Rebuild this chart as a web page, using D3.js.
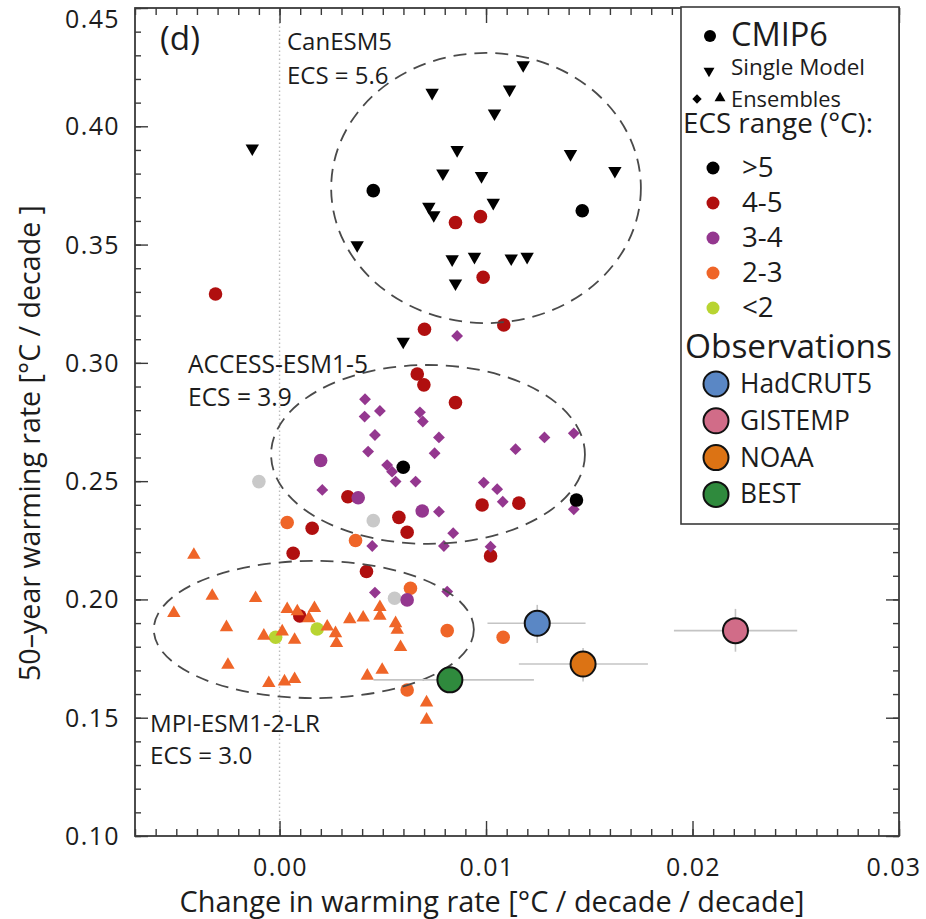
<!DOCTYPE html>
<html><head><meta charset="utf-8">
<script src="https://cdn.jsdelivr.net/npm/d3@7"></script>
<style>body{margin:0;background:#fff} svg{display:block} text{font-family:"Open Sans",sans-serif;fill:#1c1c1c}</style>
</head><body><svg id="c" width="926" height="919"></svg>
<script>
// ---------------- data ----------------
const xTicks = [0.00, 0.01, 0.02, 0.03];
const yTicks = [0.10, 0.15, 0.20, 0.25, 0.30, 0.35, 0.40, 0.45];

// CMIP6 individual models, grouped by ECS range  [x, y]
const cmipGrey   = [[-0.00100,0.2498],[0.00454,0.2333],[0.00557,0.2005]];
const cmipLime   = [[-0.00019,0.1840],[0.00182,0.1875]];
const cmipOrange = [[0.00037,0.2325],[0.00368,0.2249],[0.00634,0.2047],[0.00812,0.1868],[0.00618,0.1617],[0.01083,0.1840]];
const cmipRed    = [[0.00852,0.3593],[0.00973,0.3618],[0.00986,0.3362],[0.00702,0.3142],[0.01086,0.3160],[-0.00310,0.3291],
                    [0.00667,0.2953],[0.00699,0.2907],[0.00852,0.2832],[0.00331,0.2434],[0.00578,0.2347],[0.00618,0.2284],
                    [0.00981,0.2399],[0.01159,0.2407],[0.00158,0.2301],[0.00066,0.2195],[0.01022,0.2184],[0.00421,0.2118],[0.00098,0.1930]];
const cmipPurple = [[0.00199,0.2587],[0.00381,0.2430],[0.00691,0.2374],[0.00618,0.1998]];
const cmipBlack  = [[0.00454,0.3728],[0.01466,0.3643],[0.00599,0.2559],[0.01438,0.2420]];

// Single-model ensembles
const canesm5Runs = [[0.01180,0.4259],[0.00739,0.4142],[0.01114,0.4156],[0.01041,0.4055],[0.00860,0.3900],[0.01409,0.3883],
                     [0.01624,0.3812],[0.00791,0.3801],[0.00978,0.3790],[0.01035,0.3677],[0.00723,0.3660],[0.00747,0.3625],
                     [0.00376,0.3498],[0.00836,0.3438],[0.00944,0.3449],[0.01122,0.3442],[0.01199,0.3449],[0.00852,0.3336],
                     [-0.00132,0.3907],[0.00599,0.3090]];
const accessRuns = [[0.00860,0.3114],[0.00414,0.2846],[0.00412,0.2773],[0.00486,0.2797],[0.00680,0.2791],[0.00694,0.2752],
                    [0.00462,0.2695],[0.00772,0.2685],[0.00429,0.2625],[0.00751,0.2618],[0.01143,0.2635],[0.01283,0.2685],
                    [0.01425,0.2702],[0.00521,0.2568],[0.00545,0.2540],[0.00562,0.2498],[0.00659,0.2498],[0.00207,0.2463],
                    [0.00989,0.2494],[0.01054,0.2466],[0.01081,0.2413],[0.00772,0.2371],[0.01425,0.2381],[0.00841,0.2280],
                    [0.00449,0.2226],[0.00796,0.2226],[0.01022,0.2223],[0.00462,0.2029],[0.00812,0.2033]];
const mpiRuns = [[-0.00415,0.2188],[-0.00326,0.2015],[-0.00116,0.2005],[-0.00512,0.1942],[-0.00257,0.1882],[-0.00076,0.1846],
                 [0.00013,0.1864],[0.00073,0.1829],[0.00037,0.1959],[0.00086,0.1949],[0.00169,0.1963],[0.00142,0.1920],
                 [0.00231,0.1885],[0.00271,0.1857],[0.00276,0.1815],[0.00340,0.1916],[0.00405,0.1923],[0.00486,0.1967],
                 [0.00486,0.1930],[0.00562,0.1899],[0.00570,0.1871],[0.00586,0.1798],[-0.00250,0.1723],[-0.00052,0.1646],
                 [0.00024,0.1653],[0.00073,0.1663],[0.00425,0.1677],[0.00497,0.1702],[0.00712,0.1564],[0.00712,0.1491]];

// Observations
const obsNames = ["HadCRUT5", "GISTEMP", "NOAA", "BEST"];
const obsX     = [0.01248, 0.02208, 0.01470, 0.00825];
const obsY     = [0.1899, 0.1868, 0.1727, 0.1660];
const obsXLo   = [0.01007, 0.01910, 0.01159, 0.00455];
const obsXHi   = [0.01482, 0.02507, 0.01784, 0.01232];
const obsYLo   = [0.1816, 0.1779, 0.1653, 0.1612];
const obsYHi   = [0.1977, 0.1960, 0.1795, 0.1708];
const obsColors = ["#5a87c5", "#d16c88", "#dc7314", "#2f8a3d"];

// Ensemble spread ellipses (centre x, centre y, half-width, half-height)
const ellipseNames = ["CanESM5", "ACCESS-ESM1-5", "MPI-ESM1-2-LR"];
const ellipseCX = [0.01000, 0.00719, 0.00166];
const ellipseCY = [0.3739, 0.2613, 0.1873];
const ellipseRX = [0.00750, 0.00760, 0.00775];
const ellipseRY = [0.0571, 0.0378, 0.0290];
const ellipseECS = ["ECS = 5.6", "ECS = 3.9", "ECS = 3.0"];

const ecsLabels = [">5", "4-5", "3-4", "2-3", "<2"];
const ecsColors = ["#000000", "#b00f0f", "#94378f", "#ef6528", "#b8d431"];
const greyColor = "#c9c9c9";

// ---------------- drawing ----------------
const svg = d3.select('#c');
const L = 135, R = 899, T = 8, B = 836;
const x = d3.scaleLinear().domain([-0.007, 0.03]).range([L, R]);
const y = d3.scaleLinear().domain([0.10, 0.45]).range([B, T]);
const fmt = d3.format('.2f');
const axisCol = '#3a3a3a';

function fit(t, w) {
  const l = t.node().getComputedTextLength();
  const fs = parseFloat(t.attr('font-size'));
  t.attr('font-size', (fs * w / l).toFixed(2));
  return parseFloat(t.attr('font-size'));
}
function spacingFor(t, w) {
  const l = t.node().getComputedTextLength();
  const n = t.text().length;
  return (w - l) / n;
}

// zero line
svg.append('line').attr('x1', x(0)).attr('x2', x(0)).attr('y1', y(0.10)).attr('y2', y(0.45))
  .attr('stroke', '#bdbdbd').attr('stroke-width', 1.4).attr('stroke-dasharray', '1.5,2.5');

// axes (ticks pointing inward)
const xMinor = d3.range(-7, 31).map(i => i / 1000);
const yMinor = d3.range(10, 46).map(i => i / 100);
function styleAxis(g) { g.select('.domain').remove(); g.selectAll('line').attr('stroke', axisCol).attr('stroke-width', 1.4); }
svg.append('g').attr('transform', `translate(0,${B})`).call(d3.axisBottom(x).tickValues(xMinor).tickSize(-7).tickFormat('')).call(styleAxis);
svg.append('g').attr('transform', `translate(0,${B})`).call(d3.axisBottom(x).tickValues(xTicks).tickSize(-15).tickFormat('')).call(styleAxis);
svg.append('g').attr('transform', `translate(0,${T})`).call(d3.axisTop(x).tickValues(xMinor).tickSize(-7).tickFormat('')).call(styleAxis);
svg.append('g').attr('transform', `translate(0,${T})`).call(d3.axisTop(x).tickValues(xTicks).tickSize(-15).tickFormat('')).call(styleAxis);
svg.append('g').attr('transform', `translate(${L},0)`).call(d3.axisLeft(y).tickValues(yMinor).tickSize(-6).tickFormat('')).call(styleAxis);
svg.append('g').attr('transform', `translate(${L},0)`).call(d3.axisLeft(y).tickValues(yTicks).tickSize(-13).tickFormat('')).call(styleAxis);
svg.append('g').attr('transform', `translate(${R},0)`).call(d3.axisRight(y).tickValues(yMinor).tickSize(-6).tickFormat('')).call(styleAxis);
svg.append('g').attr('transform', `translate(${R},0)`).call(d3.axisRight(y).tickValues(yTicks).tickSize(-13).tickFormat('')).call(styleAxis);
svg.append('rect').attr('x', L).attr('y', T).attr('width', R - L).attr('height', B - T)
  .attr('fill', 'none').attr('stroke', axisCol).attr('stroke-width', 1.8);

// tick labels
const tickFs = 25;
const yl = svg.append('g').selectAll('text').data(yTicks).join('text')
  .attr('x', 120).attr('y', d => Math.max(y(d), 19)).attr('dy', '0.36em').attr('text-anchor', 'end')
  .attr('font-size', tickFs).text(d => fmt(d));
const yls = spacingFor(d3.select(yl.nodes()[7]), 55); yl.attr('letter-spacing', yls.toFixed(2));
const xl = svg.append('g').selectAll('text').data(xTicks).join('text')
  .attr('x', d => Math.min(x(d) + 1, 894)).attr('y', 876).attr('text-anchor', 'middle')
  .attr('font-size', tickFs).text(d => fmt(d));
const xls = spacingFor(d3.select(xl.nodes()[0]), 55); xl.attr('letter-spacing', xls.toFixed(2));

// axis titles
const xt = svg.append('text').attr('x', 492).attr('y', 912).attr('text-anchor', 'middle').attr('font-size', 25)
  .text('Change in warming rate [°C / decade / decade]');
fit(xt, 625);
const yt = svg.append('text').attr('transform', 'translate(40,443) rotate(-90)').attr('text-anchor', 'middle').attr('font-size', 25)
  .text('50–year warming rate [°C / decade ]');
fit(yt, 476);

// markers
const gPts = svg.append('g');
function circles(data, col, r) {
  gPts.append('g').selectAll('circle').data(data).join('circle')
    .attr('cx', d => x(d[0])).attr('cy', d => y(d[1])).attr('r', r).attr('fill', col);
}
const triUp = d3.symbol().type(d3.symbolTriangle).size(78)();
const diamond = d3.symbol().type(d3.symbolSquare).size(70)();
function symbols(data, path, col, rot) {
  gPts.append('g').selectAll('path').data(data).join('path')
    .attr('d', path).attr('fill', col)
    .attr('transform', d => `translate(${x(d[0])},${y(d[1])}) rotate(${rot})`);
}
circles(cmipGrey, greyColor, 6.8);
circles(cmipLime, ecsColors[4], 6.8);
circles(cmipOrange, ecsColors[3], 6.8);
circles(cmipRed, ecsColors[1], 6.8);
circles(cmipPurple, ecsColors[2], 6.8);
symbols(mpiRuns, triUp, ecsColors[3], 0);
symbols(accessRuns, diamond, ecsColors[2], 45);
circles(cmipBlack, ecsColors[0], 6.8);
symbols(canesm5Runs, triUp, '#000', 180);

// ellipses
svg.append('g').selectAll('ellipse').data(ellipseNames).join('ellipse')
  .attr('cx', (d, i) => x(ellipseCX[i])).attr('cy', (d, i) => y(ellipseCY[i]))
  .attr('rx', (d, i) => x(ellipseCX[i] + ellipseRX[i]) - x(ellipseCX[i]))
  .attr('ry', (d, i) => y(ellipseCY[i] - ellipseRY[i]) - y(ellipseCY[i]))
  .attr('fill', 'none').attr('stroke', '#4a4a4a').attr('stroke-width', 1.8).attr('stroke-dasharray', '13,8');

// observations
const gObs = svg.append('g');
obsNames.forEach((n, i) => {
  gObs.append('line').attr('x1', x(obsXLo[i])).attr('x2', x(obsXHi[i])).attr('y1', y(obsY[i])).attr('y2', y(obsY[i]))
    .attr('stroke', '#c4c4c4').attr('stroke-width', 1.6);
  gObs.append('line').attr('x1', x(obsX[i])).attr('x2', x(obsX[i])).attr('y1', y(obsYLo[i])).attr('y2', y(obsYHi[i]))
    .attr('stroke', '#c4c4c4').attr('stroke-width', 1.6);
});
gObs.selectAll('circle').data(obsNames).join('circle')
  .attr('cx', (d, i) => x(obsX[i])).attr('cy', (d, i) => y(obsY[i])).attr('r', 12.5)
  .attr('fill', (d, i) => obsColors[i]).attr('stroke', '#111').attr('stroke-width', 2);

// annotations
const dl = svg.append('text').attr('x', 160).attr('y', 50).attr('font-size', 24).text('(d)');
fit(dl, 40);
const annX = [287, 188, 150], annY = [50, 373, 732], annW = [105, 180, 170], annGap = [34, 33, 32];
ellipseNames.forEach((n, i) => {
  const t = svg.append('text').attr('x', annX[i]).attr('y', annY[i]).attr('font-size', 20).text(n);
  const fs = fit(t, annW[i]);
  svg.append('text').attr('x', annX[i]).attr('y', annY[i] + annGap[i]).attr('font-size', fs).text(ellipseECS[i]);
});

// legend
const lg = svg.append('g');
lg.append('rect').attr('x', 681).attr('y', 7).attr('width', 218).attr('height', 517)
  .attr('fill', '#fff').attr('stroke', '#3a3a3a').attr('stroke-width', 1.6);
lg.append('circle').attr('cx', 710).attr('cy', 36).attr('r', 6).attr('fill', '#000');
fit(lg.append('text').attr('x', 731).attr('y', 46).attr('font-size', 28).text('CMIP6'), 97);
const triS = d3.symbol().type(d3.symbolTriangle).size(52)();
const diaS = d3.symbol().type(d3.symbolSquare).size(44)();
lg.append('path').attr('d', triS).attr('transform', 'translate(709,71) rotate(180)');
fit(lg.append('text').attr('x', 731).attr('y', 75).attr('font-size', 18).text('Single Model'), 134);
lg.append('path').attr('d', diaS).attr('transform', 'translate(697,99) rotate(45)');
lg.append('path').attr('d', triS).attr('transform', 'translate(720,98)');
fit(lg.append('text').attr('x', 731).attr('y', 107).attr('font-size', 18).text('Ensembles'), 110);
const ecsFs = fit(lg.append('text').attr('x', 683).attr('y', 133).attr('font-size', 22).text('ECS range (°C):'), 190);
ecsLabels.forEach((e, i) => {
  const cy = 168 + i * 35;
  lg.append('circle').attr('cx', 713).attr('cy', cy).attr('r', 6.5).attr('fill', ecsColors[i]);
  lg.append('text').attr('x', 742).attr('y', cy + 9).attr('font-size', ecsFs).text(e);
});
fit(lg.append('text').attr('x', 685).attr('y', 358).attr('font-size', 30).text('Observations'), 207);
let obsFs = 24;
obsNames.forEach((n, i) => {
  const cy = 384 + i * 36.8;
  lg.append('circle').attr('cx', 716).attr('cy', cy).attr('r', 12.5).attr('fill', obsColors[i]).attr('stroke', '#111').attr('stroke-width', 2);
  const t = lg.append('text').attr('x', 740).attr('y', cy + 9).attr('font-size', obsFs).text(n);
  if (i === 0) obsFs = fit(t, 132); else t.attr('font-size', obsFs);
});
</script>
</body></html>
